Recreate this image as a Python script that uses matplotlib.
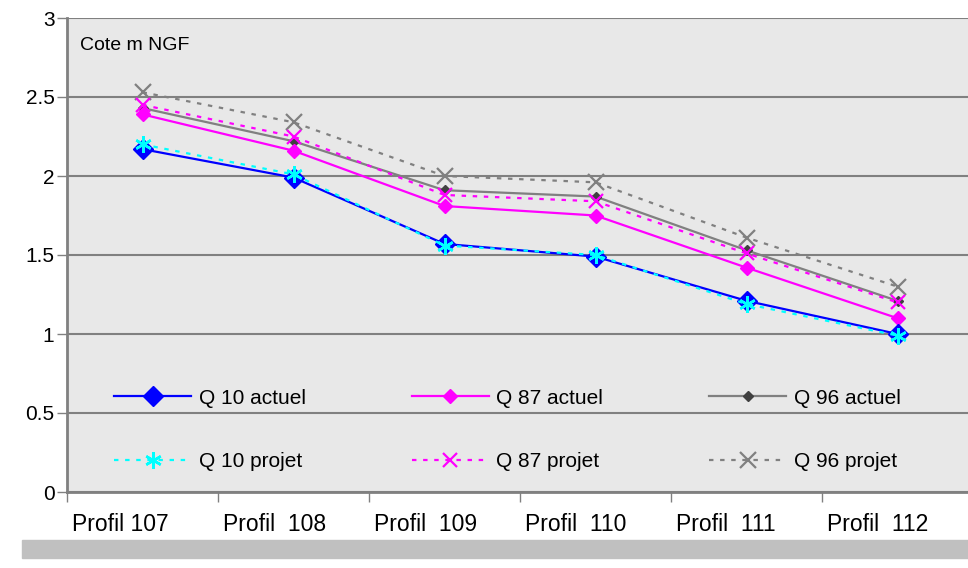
import matplotlib.pyplot as plt
from matplotlib.patches import Rectangle

plt.rcParams['font.family'] = ['Liberation Sans', 'DejaVu Sans']

profils = ['Profil 107', 'Profil  108', 'Profil  109', 'Profil  110', 'Profil  111', 'Profil  112']

q10_actuel = [2.17, 1.99, 1.57, 1.49, 1.21, 1.00]
q10_projet = [2.20, 2.01, 1.56, 1.50, 1.19, 0.99]
q87_actuel = [2.39, 2.16, 1.81, 1.75, 1.42, 1.10]
q87_projet = [2.45, 2.25, 1.88, 1.84, 1.51, 1.20]
q96_actuel = [2.43, 2.22, 1.91, 1.87, 1.53, 1.21]
q96_projet = [2.53, 2.34, 2.00, 1.96, 1.61, 1.30]

fig = plt.figure(figsize=(9.68, 5.68), dpi=100)
ax = fig.add_axes([67/968, 1-492/568, 906/968, 474/568])
ax.set_facecolor('#e8e8e8')

# barre grise en bas
fig.patches.append(Rectangle((22/968, 1-558/568), 946/968, 18/568,
                             transform=fig.transFigure, color='#c0c0c0', zorder=0))

x = range(len(profils))
dot = (0, (2, 3))
ax.plot(x, q10_actuel, color='#0000ff', lw=1.6, marker='D', ms=10, label='Q 10 actuel', zorder=5)
ax.plot(x, q10_projet, color='#00ffff', lw=1.6, ls=dot, marker=(6, 2, 0), ms=12, mew=1.8,
        label='Q 10 projet', zorder=6)
ax.plot(x, q87_actuel, color='#ff00ff', lw=1.6, marker='D', ms=7, label='Q 87 actuel', zorder=4)
ax.plot(x, q87_projet, color='#ff00ff', lw=1.6, ls=dot, marker='x', ms=10, mew=1.6,
        label='Q 87 projet', zorder=4)
ax.plot(x, q96_actuel, color='#808080', lw=1.6, marker='D', ms=5, mfc='#404040', mec='#404040',
        label='Q 96 actuel', zorder=3)
ax.plot(x, q96_projet, color='#808080', lw=1.6, ls=dot, marker='x', ms=12, mew=1.6,
        label='Q 96 projet', zorder=3)

ax.set_xlim(-0.5, 5.5)
ax.set_ylim(0, 3)
ax.set_yticks([0, 0.5, 1, 1.5, 2, 2.5, 3])
ax.set_yticklabels(['0', '0.5', '1', '1.5', '2', '2.5', '3'])
ax.set_xticks([i + 0.5 for i in range(-1, 6)])
ax.set_xticklabels([])
# étiquettes alignées à gauche de chaque catégorie
ax.set_xticks([i - 0.465 for i in x], minor=True)
ax.set_xticklabels(profils, minor=True, ha='left')
ax.tick_params(axis='x', which='minor', length=0, pad=15, labelsize=16.5)
ax.tick_params(axis='x', which='major', length=7, color='#808080', width=1)
ax.tick_params(axis='y', length=7, color='#808080', width=1, labelsize=15, pad=2)

ax.grid(axis='y', color='#808080', lw=1.5)
ax.set_axisbelow(True)
for s in ['top', 'right']:
    ax.spines[s].set_visible(False)
for s in ['left', 'bottom']:
    ax.spines[s].set_color('#808080')
    ax.spines[s].set_linewidth(2)

ax.text(0.014, 0.943, 'Cote m NGF', transform=ax.transAxes, fontsize=14, va='center')

ax.legend(loc='center', bbox_to_anchor=(0.486, 0.131), ncol=3, frameon=False, fontsize=15,
          handlelength=3.7, handletextpad=0.35, columnspacing=5.1, labelspacing=2.15)

fig.savefig('out.png')
